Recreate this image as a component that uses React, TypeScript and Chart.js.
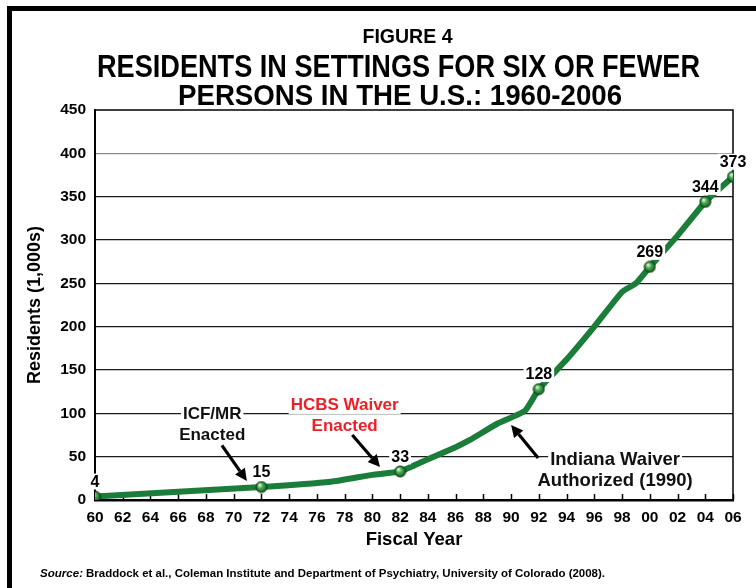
import React, { useEffect, useRef } from "react";
import { Chart, registerables } from "chart.js";

Chart.register(...registerables);

// ---------- data ----------
const lineYears = [1960, 1972, 1977, 1980, 1982, 1984, 1986, 1987, 1989, 1991, 1992, 1994, 1996, 1998, 1999, 2000, 2002, 2004, 2006];
const lineValues = [4, 15, 21, 29, 33, 47, 61, 69, 88, 103, 128, 162, 200, 240, 250, 269, 305, 344, 373];
const markYears = [1960, 1972, 1982, 1992, 2000, 2004, 2006];
const markValues = [4, 15, 33, 128, 269, 344, 373];
const yMin = 0;
const yMax = 450;
const yStep = 50;
const xMin = 1960;
const xMax = 2006;
const xStep = 2;

const titleLines = ["FIGURE 4", "RESIDENTS IN SETTINGS FOR SIX OR FEWER", "PERSONS IN THE U.S.: 1960-2006"];
const xTitle = "Fiscal Year";
const yTitle = "Residents (1,000s)";
const sourceLabel = "Source:";
const sourceText = "Braddock et al., Coleman Institute and Department of Psychiatry, University of Colorado (2008).";

const annotationTexts = [
  { lines: ["ICF/MR", "Enacted"], color: "#111111", year: 1968.45, value: 100.5, size: 17 },
  { lines: ["HCBS Waiver", "Enacted"], color: "#ee1f26", year: 1978.0, value: 110.8, size: 17 },
  { lines: ["Indiana Waiver", "Authorized (1990)"], color: "#111111", year: 1997.5, value: 47.5, size: 18.5 },
];
const arrows = [
  { from: [1969.15, 63], to: [1970.95, 22] },
  { from: [1978.55, 75], to: [1980.55, 38] },
  { from: [1991.95, 48.5], to: [1990.0, 86.5] },
];

const FONT = '"Liberation Sans", Arial, Helvetica, sans-serif';

function makeSphere(r: number): HTMLCanvasElement {
  const c = document.createElement("canvas");
  const s = Math.ceil(r * 2 + 2);
  c.width = s;
  c.height = s;
  const g = c.getContext("2d")!;
  const cx = s / 2, cy = s / 2;
  const grad = g.createRadialGradient(cx - r * 0.35, cy - r * 0.4, r * 0.1, cx, cy, r);
  grad.addColorStop(0, "#e4f8dc");
  grad.addColorStop(0.4, "#4fae55");
  grad.addColorStop(1, "#0f5a22");
  g.beginPath();
  g.arc(cx, cy, r, 0, Math.PI * 2);
  g.fillStyle = grad;
  g.fill();
  g.lineWidth = 1;
  g.strokeStyle = "#0a3d16";
  g.stroke();
  return c;
}

function fitText(ctx: CanvasRenderingContext2D, text: string, cx: number, baseline: number, size: number, targetW: number, font = "bold") {
  ctx.save();
  ctx.font = `${font} ${size}px ${FONT}`;
  const w = ctx.measureText(text).width;
  const sx = targetW / w;
  ctx.translate(cx, baseline);
  ctx.scale(sx, 1);
  ctx.textAlign = "center";
  ctx.textBaseline = "alphabetic";
  ctx.fillText(text, 0, 0);
  ctx.restore();
}

const decorPlugin = {
  id: "decor",
  beforeDatasetsDraw(chart: any) {
    const ctx: CanvasRenderingContext2D = chart.ctx;
    const a = chart.chartArea;
    const xs = chart.scales.x;
    ctx.save();
    ctx.strokeStyle = "#000";
    ctx.lineWidth = 1.5;
    ctx.beginPath();
    ctx.moveTo(a.left, a.top);
    ctx.lineTo(a.right, a.top);
    ctx.lineTo(a.right, a.bottom);
    ctx.stroke();
    ctx.lineWidth = 1.5;
    for (let y = xMin; y <= xMax; y += xStep) {
      const px = Math.round(xs.getPixelForValue(y)) + 0.5;
      ctx.beginPath();
      ctx.moveTo(px, a.bottom);
      ctx.lineTo(px, a.bottom - 6);
      ctx.stroke();
    }
    ctx.restore();
  },
  afterDatasetDraw(chart: any, args: any) {
    if (args.index !== 1) return;
    const ctx: CanvasRenderingContext2D = chart.ctx;
    const xs = chart.scales.x;
    const ys = chart.scales.y;
    ctx.save();
    ctx.font = `bold 16px ${FONT}`;
    ctx.textAlign = "center";
    ctx.textBaseline = "middle";
    markYears.forEach((yr, i) => {
      const px = xs.getPixelForValue(yr);
      const py = ys.getPixelForValue(markValues[i]) - 15;
      const t = String(markValues[i]);
      const w = ctx.measureText(t).width + 4;
      ctx.fillStyle = "#fff";
      ctx.fillRect(px - w / 2, py - 8, w, 16);
      ctx.fillStyle = "#000";
      ctx.fillText(t, px, py + 1);
    });
    annotationTexts.forEach((an) => {
      const px = xs.getPixelForValue(an.year);
      const py0 = ys.getPixelForValue(an.value);
      ctx.font = `bold ${an.size}px ${FONT}`;
      an.lines.forEach((ln, k) => {
        const py = py0 + k * 21;
        const w = ctx.measureText(ln).width + 4;
        ctx.fillStyle = "#fff";
        ctx.fillRect(px - w / 2, py - 10, w, 20);
        ctx.fillStyle = an.color;
        ctx.fillText(ln, px, py + 1);
      });
    });
    ctx.restore();
  },
  afterDraw(chart: any) {
    const ctx: CanvasRenderingContext2D = chart.ctx;
    const a = chart.chartArea;
    const xs = chart.scales.x;
    const ys = chart.scales.y;
    ctx.save();
    ctx.fillStyle = "#000";
    ctx.fillRect(7, 6, 749, 5);
    ctx.fillRect(7, 6, 5, 582);
    ctx.fillStyle = "#000";
    fitText(ctx, titleLines[0], 407.5, 43, 21, 90);
    fitText(ctx, titleLines[1], 398.5, 77, 30.5, 603);
    fitText(ctx, titleLines[2], 400, 105, 30, 444);
    ctx.font = `bold 18.5px ${FONT}`;
    ctx.textAlign = "center";
    ctx.textBaseline = "middle";
    ctx.fillText(xTitle, (a.left + a.right) / 2, 540);
    ctx.save();
    ctx.translate(35, (a.top + a.bottom) / 2);
    ctx.rotate(-Math.PI / 2);
    ctx.font = `bold 18px ${FONT}`;
    ctx.fillText(yTitle, 0, 0);
    ctx.restore();
    ctx.textAlign = "left";
    ctx.textBaseline = "alphabetic";
    ctx.font = `italic bold 10.5px ${FONT}`;
    const sw = ctx.measureText(sourceLabel).width;
    ctx.save();
    ctx.translate(40, 577);
    ctx.scale(43 / sw, 1);
    ctx.fillText(sourceLabel, 0, 0);
    ctx.restore();
    ctx.font = `bold 10.5px ${FONT}`;
    const tw = ctx.measureText(sourceText).width;
    ctx.save();
    ctx.translate(86, 577);
    ctx.scale(519 / tw, 1);
    ctx.fillText(sourceText, 0, 0);
    ctx.restore();
    ctx.strokeStyle = "#000";
    ctx.fillStyle = "#000";
    ctx.lineWidth = 3.2;
    arrows.forEach((ar) => {
      const x1 = xs.getPixelForValue(ar.from[0]);
      const y1 = ys.getPixelForValue(ar.from[1]);
      const x2 = xs.getPixelForValue(ar.to[0]);
      const y2 = ys.getPixelForValue(ar.to[1]);
      const ang = Math.atan2(y2 - y1, x2 - x1);
      const hl = 12, hw = 6;
      const bx = x2 - Math.cos(ang) * hl;
      const by = y2 - Math.sin(ang) * hl;
      ctx.beginPath();
      ctx.moveTo(x1, y1);
      ctx.lineTo(bx, by);
      ctx.stroke();
      ctx.beginPath();
      ctx.moveTo(x2, y2);
      ctx.lineTo(bx + Math.sin(ang) * hw, by - Math.cos(ang) * hw);
      ctx.lineTo(bx - Math.sin(ang) * hw, by + Math.cos(ang) * hw);
      ctx.closePath();
      ctx.fill();
    });
    ctx.restore();
  },
};

export default function App() {
  const ref = useRef<HTMLCanvasElement | null>(null);
  useEffect(() => {
    document.body.style.margin = "0";
    const canvas = ref.current!;
    const sphere = makeSphere(5.5);
    const chart = new Chart(canvas, {
      type: "line",
      data: {
        datasets: [
          {
            label: "marks",
            data: markYears.map((x, i) => ({ x, y: markValues[i] })),
            showLine: false,
            pointStyle: sphere as any,
            pointRadius: 6,
            pointHoverRadius: 6,
          },
          {
            label: "residents",
            data: lineYears.map((x, i) => ({ x, y: lineValues[i] })),
            borderColor: "#1b7d3a",
            borderWidth: 6,
            pointRadius: 0,
            tension: 0.15,
            borderCapStyle: "round",
            borderJoinStyle: "round",
            fill: false,
          },
        ],
      },
      options: {
        responsive: false,
        animation: false,
        events: [],
        layout: { padding: { left: 0, right: 23, top: 110, bottom: 0 } },
        plugins: {
          legend: { display: false },
          title: { display: false },
          tooltip: { enabled: false },
        },
        scales: {
          x: {
            type: "linear",
            min: xMin,
            max: xMax,
            ticks: {
              stepSize: xStep,
              autoSkip: false,
              maxRotation: 0,
              padding: 8,
              color: "#000",
              font: { family: FONT, size: 15.5, weight: "bold" },
              callback: (v: any) => String(Number(v) % 100).padStart(2, "0"),
            },
            grid: { display: false, drawTicks: false },
            border: { display: true, color: "#000", width: 2.5 },
            afterFit: (s: any) => { s.height = 88; },
          },
          y: {
            min: yMin,
            max: yMax,
            ticks: {
              stepSize: yStep,
              padding: 9,
              color: "#000",
              font: { family: FONT, size: 15.5, weight: "bold" },
            },
            grid: {
              drawTicks: false,
              color: (c: any) => (c.tick && c.tick.value === 400 ? "#8a8a8a" : c.tick && (c.tick.value === 0 || c.tick.value === 450) ? "rgba(0,0,0,0)" : "#1a1a1a"),
              lineWidth: 1.2,
            },
            border: { display: true, color: "#000", width: 2 },
            afterFit: (s: any) => { s.width = 95; },
          },
        },
      },
      plugins: [decorPlugin],
    });
    return () => chart.destroy();
  }, []);
  return (
    <div style={{ position: "absolute", left: 0, top: 0, width: 756, height: 588, background: "#fff" }}>
      <canvas ref={ref} width={756} height={588} style={{ display: "block" }} />
    </div>
  );
}
